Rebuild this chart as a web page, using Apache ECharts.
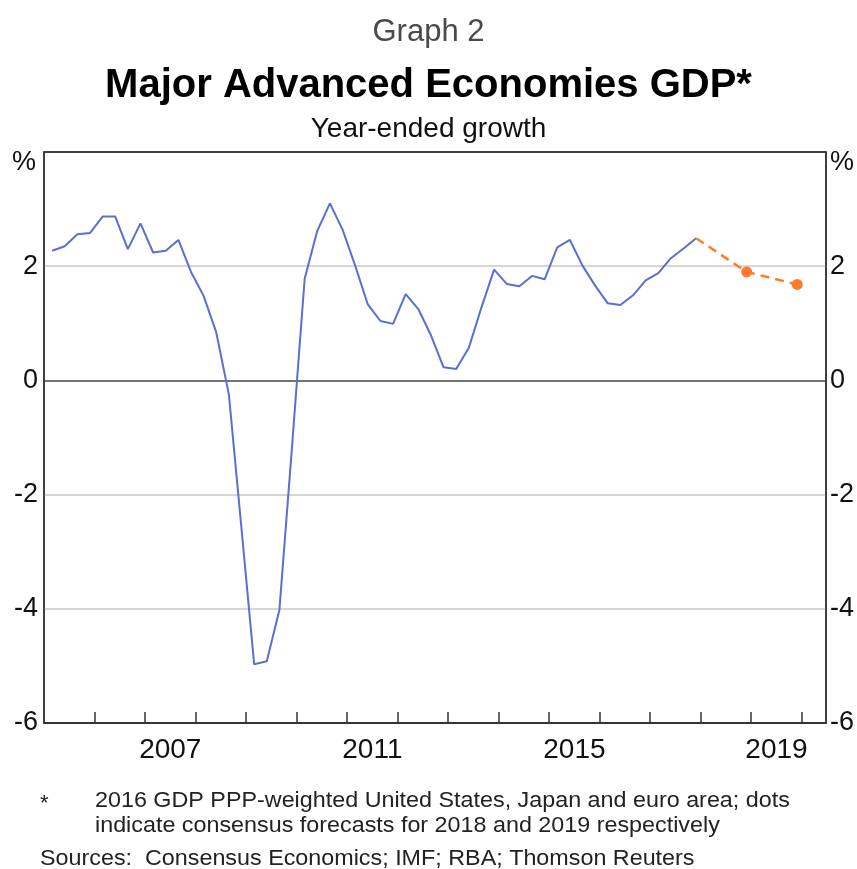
<!DOCTYPE html>
<html>
<head>
<meta charset="utf-8">
<script src="https://cdn.jsdelivr.net/npm/echarts@6/dist/echarts.min.js"></script>
<style>
html,body{margin:0;padding:0;background:#fff;}
#chart{width:857px;height:869px;}
</style>
</head>
<body>
<div id="chart"></div>
<script>
// ---- Data ----
const startYear = 2005;
// Quarterly year-ended GDP growth (%), 2005 Q1 – 2017 Q4
const gdpGrowth = [
  2.27, 2.35, 2.56, 2.58,
  2.87, 2.87, 2.30, 2.75,
  2.24, 2.27, 2.46, 1.90,
  1.48, 0.84, -0.25, -2.60,
  -4.97, -4.92, -4.02, -1.16,
  1.78, 2.62, 3.10, 2.64,
  2.01, 1.33, 1.04, 0.99,
  1.51, 1.25, 0.79, 0.23,
  0.20, 0.57, 1.28, 1.94,
  1.69, 1.65, 1.83, 1.77,
  2.33, 2.46, 2.01, 1.66,
  1.35, 1.32, 1.49, 1.75,
  1.88, 2.14, 2.31, 2.49
];
// Consensus forecasts (Q4 of each year)
const forecastYears = [2018, 2019];
const forecastValues = [1.90, 1.68];
// Axis tick labels
const yearLabels = [2007, 2011, 2015, 2019];
const yTicks = [-6, -4, -2, 0, 2, 4];

// ---- Build series ----
const qPos = (year, q) => year + q * 0.25 + 0.16;
const gdpData = gdpGrowth.map((v, i) => [qPos(startYear + Math.floor(i / 4), i % 4), v]);
const last = gdpData[gdpData.length - 1];
const fcData = [{ value: [last[0], last[1]], symbol: 'none' }]
  .concat(forecastYears.map((y, i) => ({ value: [qPos(y, 3), forecastValues[i]] })));

const tickYears = [];
for (let y = 2006; y <= 2020; y++) tickYears.push(y);

const splitColors = yTicks.map(v => (v === 0 ? '#444' : (v === 4 || v === -6) ? '#333' : '#c8c8c8'));

const font = '"Liberation Sans", Arial, sans-serif';

const chart = echarts.init(document.getElementById('chart'), null, { renderer: 'canvas' });
chart.setOption({
  animation: false,
  backgroundColor: '#fff',
  grid: {
    left: 44, right: 31, top: 152, bottom: 146,
    show: true, borderColor: '#333', borderWidth: 1.5, backgroundColor: 'transparent'
  },
  xAxis: {
    type: 'value', min: 2005, max: 2020.48,
    axisLine: { show: true, onZero: false, lineStyle: { color: '#333', width: 1.5 } },
    axisTick: { show: true, inside: true, length: 11, customValues: tickYears, lineStyle: { color: '#333', width: 1.5 } },
    axisLabel: {
      customValues: yearLabels.map(y => y + 0.5),
      formatter: v => String(Math.floor(v)),
      color: '#111', fontFamily: font, fontSize: 28, margin: 13
    },
    splitLine: { show: false }
  },
  yAxis: [
    {
      type: 'value', min: -6, max: 4, interval: 2, position: 'left',
      axisLine: { show: true, lineStyle: { color: '#333', width: 1.5 } },
      axisTick: { show: false },
      axisLabel: { formatter: v => (v === 4 ? '' : String(v)), color: '#111', fontFamily: font, fontSize: 27, margin: 6 },
      splitLine: { show: true, lineStyle: { color: splitColors, width: 1.5 } }
    },
    {
      type: 'value', min: -6, max: 4, interval: 2, position: 'right',
      axisLine: { show: true, lineStyle: { color: '#333', width: 1.5 } },
      axisTick: { show: false },
      axisLabel: { formatter: v => (v === 4 ? '' : String(v)), color: '#111', fontFamily: font, fontSize: 27, margin: 4 },
      splitLine: { show: false }
    }
  ],
  series: [
    {
      type: 'line', data: gdpData, symbol: 'none',
      lineStyle: { color: '#5b6ed4', width: 2 },
      z: 3
    },
    {
      type: 'line', data: fcData, symbol: 'circle', symbolSize: 11,
      itemStyle: { color: '#ff7a2a' },
      lineStyle: { color: '#ff7a2a', width: 2.5, type: [9, 6] },
      z: 4
    }
  ],
  graphic: [
    { type: 'text', left: 'center', top: 17, style: { text: 'Graph 2', font: '31px ' + font, fill: '#4a4a4a' } },
    { type: 'text', left: 'center', top: 66, style: { text: 'Major Advanced Economies GDP*', font: 'bold 40px ' + font, fill: '#000' } },
    { type: 'text', left: 'center', top: 115, style: { text: 'Year-ended growth', font: '28px ' + font, fill: '#111' } },
    { type: 'text', left: 12, top: 149, style: { text: '%', font: '27px ' + font, fill: '#111' } },
    { type: 'text', left: 830, top: 149, style: { text: '%', font: '27px ' + font, fill: '#111' } },
    { type: 'text', left: 40, top: 793, style: { text: '*', font: '22px ' + font, fill: '#222' } },
    { type: 'text', left: 95, top: 790, scaleX: 1.06, style: { text: '2016 GDP PPP-weighted United States, Japan and euro area; dots', font: '22px ' + font, fill: '#222' } },
    { type: 'text', left: 95, top: 815, scaleX: 1.06, style: { text: 'indicate consensus forecasts for 2018 and 2019 respectively', font: '22px ' + font, fill: '#222' } },
    { type: 'text', left: 40, top: 848, scaleX: 1.06, style: { text: 'Sources:  Consensus Economics; IMF; RBA; Thomson Reuters', font: '22px ' + font, fill: '#222' } }
  ]
});
</script>
</body>
</html>
